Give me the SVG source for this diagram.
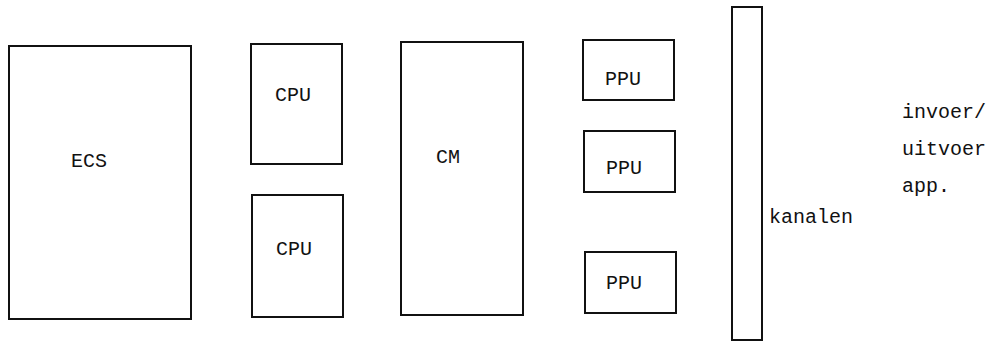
<svg xmlns="http://www.w3.org/2000/svg" width="996" height="341" viewBox="0 0 996 341">
<style>
.box{fill:none;stroke:#111;stroke-width:2}
.t{font-family:"Liberation Mono","Courier New",monospace;font-size:20px;fill:#111}
.c{text-anchor:middle}
</style>
<rect width="996" height="341" fill="#fff"/>
<g id="ecs"><rect class="box" x="9" y="46" width="182" height="273"/><text class="t c" x="89" y="167">ECS</text></g>
<g id="cpu1"><rect class="box" x="251" y="44" width="91" height="120"/><text class="t c" x="293" y="101">CPU</text></g>
<g id="cpu2"><rect class="box" x="252" y="195" width="91" height="122"/><text class="t c" x="294" y="255">CPU</text></g>
<g id="cm"><rect class="box" x="401" y="42" width="122" height="273"/><text class="t c" x="448" y="163">CM</text></g>
<g id="ppu1"><rect class="box" x="583" y="40" width="91" height="60"/><text class="t c" x="623" y="85">PPU</text></g>
<g id="ppu2"><rect class="box" x="584" y="131" width="91" height="61"/><text class="t c" x="624" y="174">PPU</text></g>
<g id="ppu3"><rect class="box" x="585" y="252" width="91" height="61"/><text class="t c" x="624" y="289">PPU</text></g>
<g id="kanalen"><rect class="box" x="732" y="7" width="30" height="333"/><text class="t" x="769" y="223">kanalen</text></g>
<g id="io"><text class="t" x="902" y="118">invoer/</text><text class="t" x="902" y="155">uitvoer</text><text class="t" x="902" y="192">app.</text></g>
<g id="connectors"/>
</svg>
